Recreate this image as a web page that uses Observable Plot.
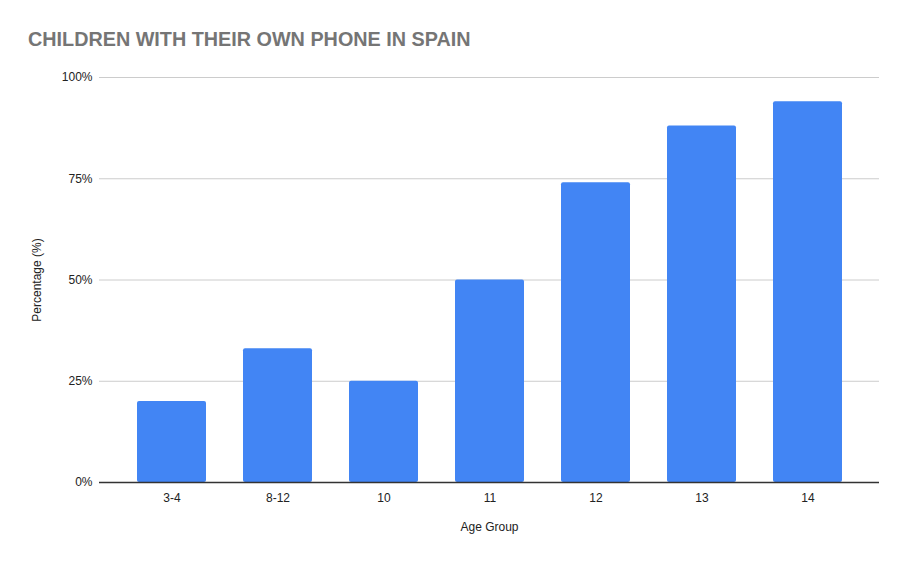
<!DOCTYPE html>
<html>
<head>
<meta charset="utf-8">
<script src="https://cdn.jsdelivr.net/npm/d3@7"></script>
<script src="https://cdn.jsdelivr.net/npm/@observablehq/plot@0.6"></script>
<style>
  html, body { margin: 0; padding: 0; background: #fff; }
  #wrap { position: relative; width: 908px; height: 563px; font-family: "Liberation Sans", Arial, sans-serif; }
  #title { position: absolute; left: 28px; top: 28px; font-size: 19.8px; font-weight: bold; color: #757575; white-space: nowrap; }
  #chart { position: absolute; left: 0; top: 0; }
</style>
</head>
<body>
<div id="wrap">
  <div id="chart"></div>
  <div id="title">CHILDREN WITH THEIR OWN PHONE IN SPAIN</div>
</div>
<script>
const ageGroups = ["3-4", "8-12", "10", "11", "12", "13", "14"];
const percentages = [20, 33, 25, 50, 74, 88, 94];
const yTicks = [0, 25, 50, 75, 100];

const data = ageGroups.map((g, i) => ({group: g, value: percentages[i]}));

const chart = Plot.plot({
  width: 908,
  height: 563,
  marginTop: 77,
  marginBottom: 81,
  marginLeft: 99,
  marginRight: 29,
  style: {fontFamily: "'Liberation Sans', Arial, sans-serif", fontSize: "12px", color: "#222", background: "white"},
  x: {domain: ageGroups, padding: 0.35, label: "Age Group", labelAnchor: "center", labelOffset: 48, labelArrow: false},
  y: {domain: [0, 100], label: "Percentage (%)", labelAnchor: "center", labelOffset: 67, labelArrow: false},
  marks: [
    Plot.gridY(yTicks, {stroke: "#cccccc", strokeOpacity: 1}),
    Plot.barY(data, {x: "group", y: "value", fill: "#4285F4", rx: 2}),
    Plot.ruleY([0], {stroke: "#333333", strokeWidth: 1.5}),
    Plot.axisY(yTicks, {tickSize: 0, tickPadding: 7, tickFormat: d => d + "%", label: "Percentage (%)", labelAnchor: "center", labelOffset: 67, labelArrow: false, fill: "#222"}),
    Plot.axisX({tickSize: 0, tickPadding: 11, label: "Age Group", labelAnchor: "center", labelOffset: 48, labelArrow: false, fill: "#222"})
  ]
});
document.getElementById("chart").appendChild(chart);
</script>
</body>
</html>
